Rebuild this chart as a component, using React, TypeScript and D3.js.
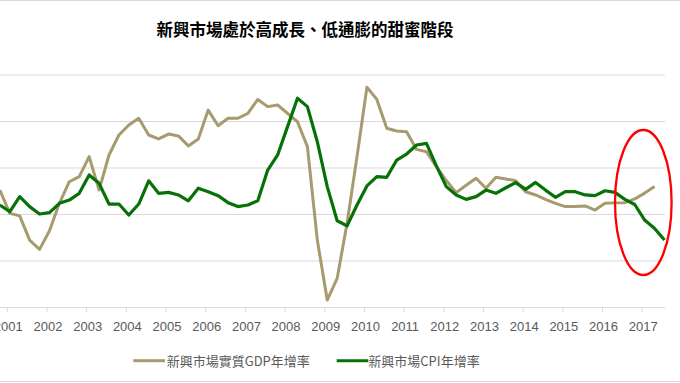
import React from "react";
import * as d3 from "d3";

// Quarterly categories, 2000Q4 .. 2017Q3
const quarters: string[] = [
  "2000Q4",
  "2001Q1","2001Q2","2001Q3","2001Q4","2002Q1","2002Q2","2002Q3","2002Q4",
  "2003Q1","2003Q2","2003Q3","2003Q4","2004Q1","2004Q2","2004Q3","2004Q4",
  "2005Q1","2005Q2","2005Q3","2005Q4","2006Q1","2006Q2","2006Q3","2006Q4",
  "2007Q1","2007Q2","2007Q3","2007Q4","2008Q1","2008Q2","2008Q3","2008Q4",
  "2009Q1","2009Q2","2009Q3","2009Q4","2010Q1","2010Q2","2010Q3","2010Q4",
  "2011Q1","2011Q2","2011Q3","2011Q4","2012Q1","2012Q2","2012Q3","2012Q4",
  "2013Q1","2013Q2","2013Q3","2013Q4","2014Q1","2014Q2","2014Q3","2014Q4",
  "2015Q1","2015Q2","2015Q3","2015Q4","2016Q1","2016Q2","2016Q3","2016Q4",
  "2017Q1","2017Q2","2017Q3",
];

// 新興市場實質GDP年增率 (%), 2000Q4 .. 2017Q2
const gdpGrowth: number[] = [
  5.05,
  4.05, 3.94, 2.90, 2.50, 3.30, 4.48, 5.41, 5.63,
  6.49, 5.05, 6.56, 7.42, 7.85, 8.14, 7.42, 7.25,
  7.46, 7.38, 6.95, 7.25, 8.49, 7.82, 8.14, 8.14,
  8.35, 8.95, 8.64, 8.71, 8.35, 7.99, 6.92, 2.90,
  0.32, 1.25, 3.62, 6.49, 9.47, 8.95, 7.71, 7.59,
  7.56, 6.80, 6.70, 6.06, 5.46, 4.94, 5.26, 5.56,
  5.13, 5.60, 5.53, 5.45, 4.98, 4.84, 4.65, 4.48,
  4.34, 4.34, 4.37, 4.19, 4.48, 4.50, 4.51, 4.67,
  4.92, 5.20,
];

// 新興市場CPI年增率 (%), 2000Q4 .. 2017Q3
const cpiGrowth: number[] = [
  4.41,
  4.12, 4.77, 4.34, 4.02, 4.08, 4.48, 4.62, 4.91,
  5.70, 5.34, 4.45, 4.45, 3.98, 4.45, 5.45, 4.91,
  4.95, 4.84, 4.59, 5.13, 4.98, 4.81, 4.51, 4.34,
  4.41, 4.59, 5.91, 6.56, 7.78, 9.00, 8.64, 7.13,
  5.20, 3.73, 3.51, 4.41, 5.23, 5.63, 5.60, 6.34,
  6.60, 6.99, 7.06, 6.09, 5.20, 4.84, 4.65, 4.77,
  5.05, 4.91, 5.15, 5.37, 5.08, 5.38, 5.05, 4.74,
  4.98, 4.98, 4.84, 4.81, 5.02, 4.95, 4.65, 4.43,
  3.76, 3.40, 2.90,
];

const yearLabels: string[] = [
  "2001","2002","2003","2004","2005","2006","2007","2008","2009",
  "2010","2011","2012","2013","2014","2015","2016","2017",
];

const yTicks: number[] = [0, 2, 4, 6, 8, 10];

const title = "新興市場處於高成長、低通膨的甜蜜階段";
const gdpName = "新興市場實質GDP年增率";
const cpiName = "新興市場CPI年增率";

const GDP_COLOR = "#A69A6E";
const CPI_COLOR = "#077007";
const GRID = "#D9D9D9";
const TEXT = "#595959";
const CJK = "'Noto Sans CJK TC', 'Noto Sans CJK SC', sans-serif";

export default function App() {
  const W = 680;
  const H = 383;
  const plotRight = 665;

  const x = d3.scaleLinear().domain([0, quarters.length - 1]).range([-0.12, 664.52]);
  const y = d3.scaleLinear().domain([0, 10]).range([307.5, 75]);

  const line = d3
    .line<number>()
    .x((_, i) => x(i))
    .y((d) => y(d))
    .curve(d3.curveLinear);

  const yearTickX = (yr: string) => x(quarters.indexOf(yr + "Q1") - 0.25);

  return (
    <svg
      width={W}
      height={H}
      style={{ position: "fixed", left: 0, top: 0, background: "#fff" }}
    >
      <rect x={0} y={0} width={W} height={H} fill="#fff" />
      <line x1={0} x2={W} y1={0.5} y2={0.5} stroke={GRID} />
      <line x1={0} x2={W} y1={381.5} y2={381.5} stroke={GRID} />

      <text
        x={305}
        y={28.5}
        textAnchor="middle"
        dominantBaseline="central"
        fontFamily={CJK}
        fontWeight={700}
        fontSize={16.5}
        fill="#000"
      >
        {title}
      </text>

      {yTicks.map((t) => (
        <line
          key={t}
          x1={0}
          x2={plotRight}
          y1={y(t)}
          y2={y(t)}
          stroke={GRID}
          strokeWidth={1}
        />
      ))}

      {yearLabels.map((yr) => {
        const tx = yearTickX(yr);
        return (
          <g key={yr}>
            <line x1={tx} x2={tx} y1={y(0)} y2={y(0) + 5} stroke={GRID} />
            <text
              x={tx + 1}
              y={326}
              textAnchor="middle"
              dominantBaseline="central"
              fontFamily="'Liberation Sans', Arial, sans-serif"
              fontSize={13}
              fill={TEXT}
            >
              {yr}
            </text>
          </g>
        );
      })}

      <path
        d={line(gdpGrowth) || ""}
        fill="none"
        stroke={GDP_COLOR}
        strokeWidth={3}
        strokeLinejoin="round"
      />
      <path
        d={line(cpiGrowth) || ""}
        fill="none"
        stroke={CPI_COLOR}
        strokeWidth={3.2}
        strokeLinejoin="round"
      />

      <ellipse
        cx={643.3}
        cy={202.5}
        rx={28.3}
        ry={72.5}
        fill="none"
        stroke="#FF0000"
        strokeWidth={2.3}
      />

      <g>
        <line x1={133.3} x2={165} y1={360.7} y2={360.7} stroke={GDP_COLOR} strokeWidth={3} />
        <text
          x={166.7}
          y={360.7}
          dominantBaseline="central"
          fontFamily={CJK}
          fontSize={13}
          fill={TEXT}
        >
          {gdpName}
        </text>
        <line x1={336.7} x2={368.3} y1={360.7} y2={360.7} stroke={CPI_COLOR} strokeWidth={3} />
        <text
          x={368.3}
          y={360.7}
          dominantBaseline="central"
          fontFamily={CJK}
          fontSize={13}
          fill={TEXT}
        >
          {cpiName}
        </text>
      </g>
    </svg>
  );
}
